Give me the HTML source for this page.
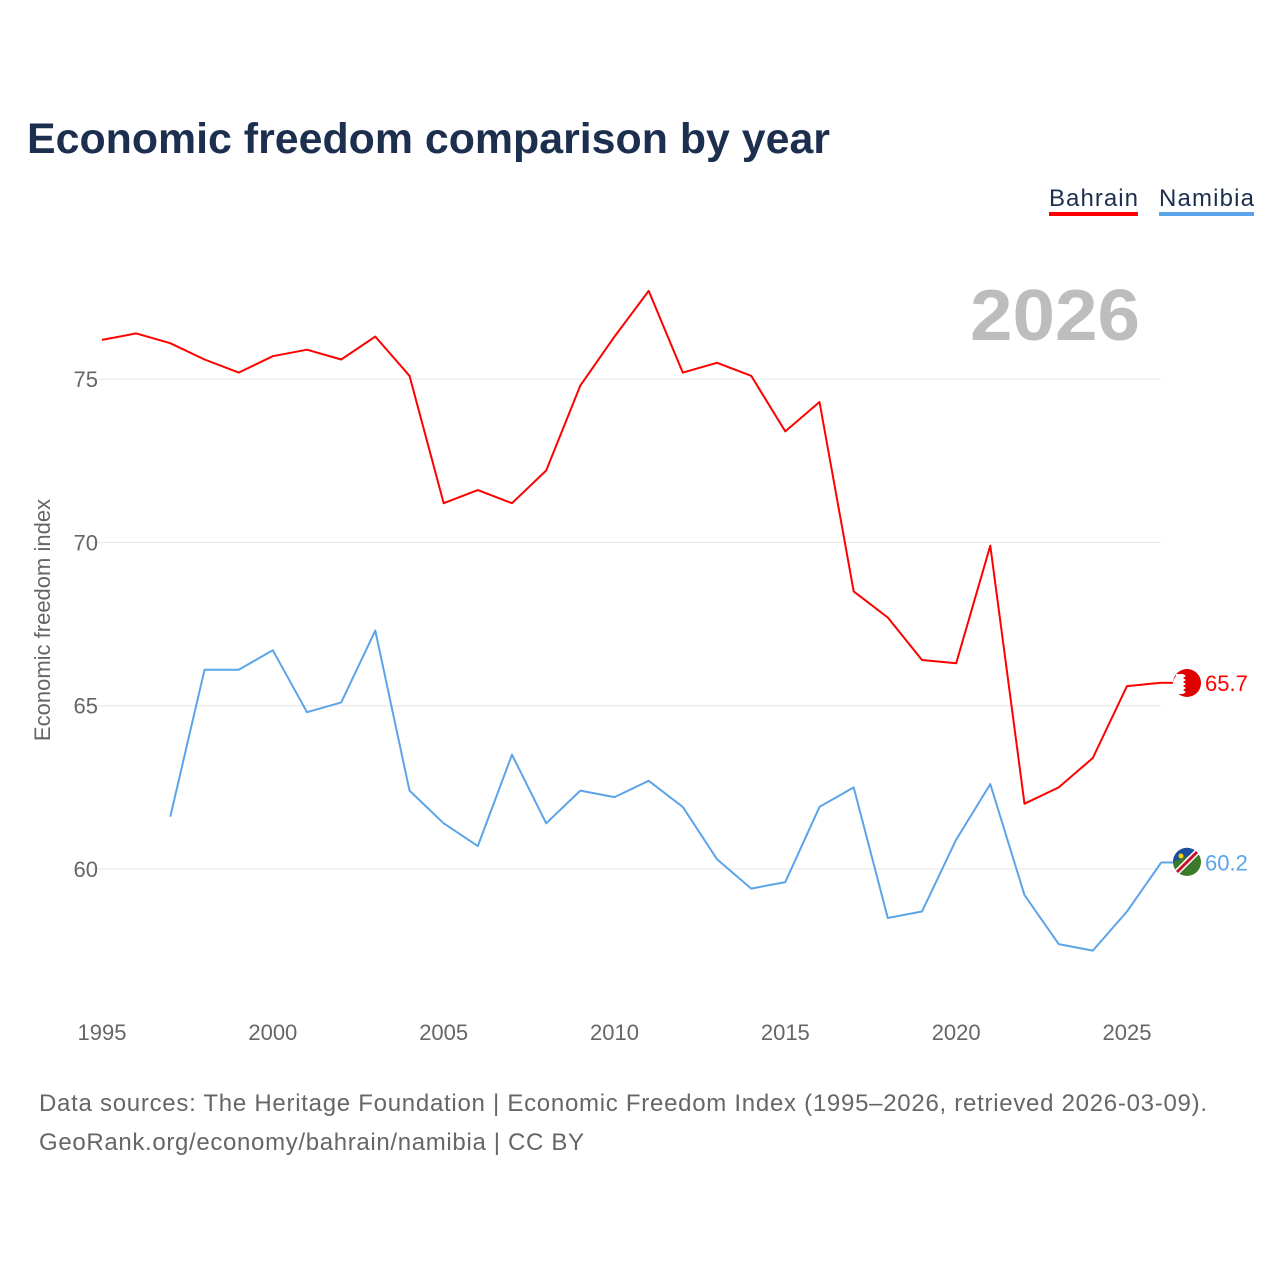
<!DOCTYPE html>
<html><head><meta charset="utf-8"><style>
body{margin:0;background:#fff;font-family:"Liberation Sans",sans-serif;}
</style></head><body>
<svg width="1280" height="1280" viewBox="0 0 1280 1280" xmlns="http://www.w3.org/2000/svg">
<text x="27" y="153" font-size="43" font-weight="bold" fill="#1c2f4f" textLength="803" lengthAdjust="spacingAndGlyphs">Economic freedom comparison by year</text>
<g>
<text x="1049" y="206" font-size="24" fill="#1c2f4f" textLength="89">Bahrain</text>
<rect x="1049" y="212" width="89" height="4" fill="#ff0000"/>
<text x="1159" y="206" font-size="24" fill="#1c2f4f" textLength="95">Namibia</text>
<rect x="1159" y="212" width="95" height="4" fill="#5ba4e9"/>
</g>
<text x="970" y="340" font-size="72" font-weight="bold" fill="#bdbdbd" textLength="170" lengthAdjust="spacingAndGlyphs">2026</text>
<g id="grid"></g>
<g id="xt"></g>
<text transform="translate(50,620) rotate(-90)" font-size="22" fill="#666" text-anchor="middle">Economic freedom index</text>
<g id="series"></g>
<g>
<circle cx="1187" cy="683" r="14" fill="#e00000"/>
<path d="M1176 674 l7 0 3 2 -3 2 3 2 -3 2 3 2 -3 2 3 2 -3 2 3 2 -3 2 l-7 0 a14 14 0 0 1 0 -18z" fill="#fff"/>
<circle cx="1187" cy="862" r="14" fill="#3b7a2a"/>
<path d="M1173 862 a14 14 0 0 1 24 -10z" fill="#1b4fa0"/>
<line x1="1177" y1="872" x2="1197" y2="852" stroke="#fff" stroke-width="6"/>
<line x1="1177" y1="872" x2="1197" y2="852" stroke="#c8102e" stroke-width="3"/>
<circle cx="1181" cy="856" r="2.5" fill="#ffd200"/>
</g>
<text x="39" y="1111" font-size="24" fill="#666" textLength="1168">Data sources: The Heritage Foundation | Economic Freedom Index (1995–2026, retrieved 2026-03-09).</text>
<text x="39" y="1150" font-size="24" fill="#666" textLength="545">GeoRank.org/economy/bahrain/namibia | CC BY</text>
</svg>
<script>
const years=[];for(let y=1995;y<=2026;y++)years.push(y);
const bahrain=[76.2,76.4,76.1,75.6,75.2,75.7,75.9,75.6,76.3,75.1,71.2,71.6,71.2,72.2,74.8,76.3,77.7,75.2,75.5,75.1,73.4,74.3,68.5,67.7,66.4,66.3,69.9,62.0,62.5,63.4,65.6,65.7];
const namibia=[null,null,61.6,66.1,66.1,66.7,64.8,65.1,67.3,62.4,61.4,60.7,63.5,61.4,62.4,62.2,62.7,61.9,60.3,59.4,59.6,61.9,62.5,58.5,58.7,60.9,62.6,59.2,57.7,57.5,58.7,60.2];
const yTicks=[60,65,70,75];
const xTicks=[1995,2000,2005,2010,2015,2020,2025];
const X=y=>102+(y-1995)*(1025/30);
const Y=v=>869-(v-60)*32.66;
const NS="http://www.w3.org/2000/svg";
function mk(t,a,p){const e=document.createElementNS(NS,t);for(const k in a)e.setAttribute(k,a[k]);p.appendChild(e);return e;}
const grid=document.getElementById('grid');
yTicks.forEach(v=>{
 const l=mk('line',{x1:92,x2:1161,y1:Y(v),y2:Y(v),stroke:'#e6e6e6','stroke-width':1},grid);
 
 
 const t=mk('text',{x:98,y:Y(v)+8,'font-size':22,fill:'#666','text-anchor':'end'},grid);
 t.textContent=v;
 
 
});
const xt=document.getElementById('xt');
xTicks.forEach(v=>{
 const t=mk('text',{x:X(v),y:1040,'font-size':22,fill:'#666','text-anchor':'middle'},xt);
 t.textContent=v;
 
 
});
const sg=document.getElementById('series');
function draw(vals,color,name){
 let d='';vals.forEach((v,i)=>{if(v==null)return;d+=(d?'L':'M')+X(years[i]).toFixed(1)+' '+Y(v).toFixed(1);});
 const p=mk('path',{d:d,fill:'none',stroke:color,'stroke-width':2,'stroke-linejoin':'round'},sg);
 
 
 const last=vals[vals.length-1];
 mk('line',{x1:X(2026),x2:1175,y1:Y(last),y2:Y(last),stroke:color,'stroke-width':2},sg);
 const t=mk('text',{x:1205,y:Y(last)+8,'font-size':22,fill:color},sg);
 t.textContent=last.toFixed(1);
 
 
}
draw(bahrain,'#ff0000','bahrain');
draw(namibia,'#5ba4e9','namibia');
</script>
</body></html>
